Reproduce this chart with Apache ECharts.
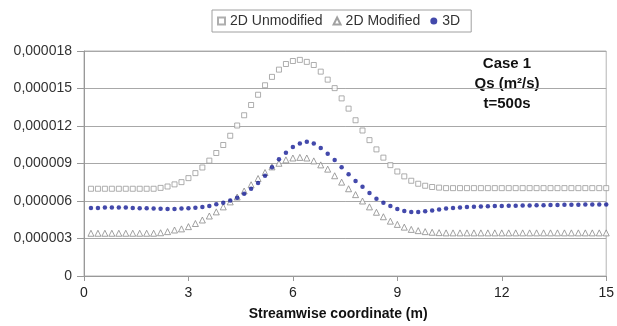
<!DOCTYPE html>
<html>
<head>
<meta charset="utf-8">
<script src="https://cdn.jsdelivr.net/npm/echarts@6/dist/echarts.min.js"></script>
<style>
  html, body { margin: 0; padding: 0; background: #fff; }
  #chart { width: 617px; height: 326px; }
</style>
</head>
<body>
<div id="chart"></div>
<script>
// streamwise coordinate (m)
var xs = [0.2, 0.4, 0.6, 0.8, 1.0, 1.2, 1.4, 1.6, 1.8, 2.0,
  2.2, 2.4, 2.6, 2.8, 3.0, 3.2, 3.4, 3.6, 3.8, 4.0,
  4.2, 4.4, 4.6, 4.8, 5.0, 5.2, 5.4, 5.6, 5.8, 6.0,
  6.2, 6.4, 6.6, 6.8, 7.0, 7.2, 7.4, 7.6, 7.8, 8.0,
  8.2, 8.4, 8.6, 8.8, 9.0, 9.2, 9.4, 9.6, 9.8, 10.0,
  10.2, 10.4, 10.6, 10.8, 11.0, 11.2, 11.4, 11.6, 11.8, 12.0,
  12.2, 12.4, 12.6, 12.8, 13.0, 13.2, 13.4, 13.6, 13.8, 14.0,
  14.2, 14.4, 14.6, 14.8, 15.0];

// Qs in units of 1e-6 m2/s
var unmodified2D = [6.98, 6.98, 6.98, 6.98, 6.98, 6.98, 6.98, 6.98, 6.98, 6.98,
  7.05, 7.16, 7.33, 7.51, 7.83, 8.23, 8.68, 9.23, 9.84, 10.48,
  11.22, 12.04, 12.86, 13.68, 14.5, 15.26, 15.93, 16.51, 16.96, 17.2,
  17.29, 17.13, 16.88, 16.35, 15.71, 15.03, 14.21, 13.39, 12.46, 11.64,
  10.87, 10.13, 9.47, 8.87, 8.36, 7.97, 7.62, 7.38, 7.22, 7.12,
  7.07, 7.03, 7.03, 7.03, 7.03, 7.03, 7.03, 7.03, 7.03, 7.03,
  7.03, 7.03, 7.03, 7.03, 7.03, 7.03, 7.03, 7.03, 7.03, 7.03,
  7.03, 7.03, 7.03, 7.03, 7.03];

var modified2D = [3.42, 3.42, 3.42, 3.42, 3.42, 3.42, 3.42, 3.42, 3.42, 3.42,
  3.46, 3.55, 3.68, 3.77, 3.95, 4.2, 4.48, 4.8, 5.13, 5.53,
  5.93, 6.32, 6.8, 7.3, 7.8, 8.28, 8.73, 9.02, 9.29, 9.44,
  9.49, 9.44, 9.21, 8.89, 8.55, 8.02, 7.51, 6.98, 6.51, 6.0,
  5.53, 5.1, 4.74, 4.39, 4.13, 3.91, 3.73, 3.63, 3.55, 3.5,
  3.47, 3.45, 3.45, 3.45, 3.45, 3.45, 3.45, 3.45, 3.45, 3.45,
  3.45, 3.45, 3.45, 3.45, 3.45, 3.45, 3.45, 3.45, 3.45, 3.45,
  3.45, 3.45, 3.45, 3.45, 3.45];

var model3D = [5.45, 5.45, 5.48, 5.48, 5.48, 5.48, 5.45, 5.42, 5.42, 5.4,
  5.38, 5.37, 5.37, 5.4, 5.42, 5.46, 5.52, 5.6, 5.74, 5.87,
  6.05, 6.27, 6.58, 6.98, 7.45, 8.03, 8.7, 9.34, 9.87, 10.32,
  10.61, 10.74, 10.61, 10.24, 9.79, 9.29, 8.7, 8.15, 7.6, 7.14,
  6.64, 6.19, 5.87, 5.61, 5.37, 5.2, 5.12, 5.13, 5.18, 5.24,
  5.32, 5.4, 5.45, 5.49, 5.52, 5.54, 5.56, 5.58, 5.6, 5.61,
  5.62, 5.63, 5.64, 5.65, 5.66, 5.67, 5.68, 5.69, 5.7, 5.7,
  5.71, 5.72, 5.72, 5.73, 5.73];

var seriesNames = ['2D Unmodified', '2D Modified', '3D'];
var noteLines = ['Case 1', 'Qs (m\u00b2/s)', 't=500s'];

function pairs(ys) {
  return xs.map(function (x, i) { return [x, ys[i]]; });
}

var chart = echarts.init(document.getElementById('chart'));

var option = {
  animation: false,
  textStyle: { fontFamily: 'Liberation Sans, Arial, sans-serif' },
  legend: {
    data: seriesNames,
    left: 212,
    top: 10,
    padding: [4, 11, 4, 5],
    itemWidth: 7,
    itemHeight: 7,
    itemGap: 10,
    borderColor: '#a0a0a0',
    borderWidth: 1,
    borderRadius: 0,
    textStyle: { fontSize: 14, color: '#333' }
  },
  grid: {
    left: 84,
    right: 5,
    top: 51,
    bottom: 48,
    show: true,
    borderColor: '#b5b5b5',
    borderWidth: 1
  },
  graphic: noteLines.map(function (t, i) {
    return {
      type: 'text',
      x: 507,
      y: 64 + i * 20,
      style: {
        text: t,
        fill: '#111',
        font: 'bold 15px "Liberation Sans", Arial, sans-serif',
        align: 'center',
        verticalAlign: 'middle'
      }
    };
  }),
  xAxis: {
    type: 'value',
    min: 0,
    max: 15,
    interval: 3,
    name: 'Streamwise coordinate (m)',
    nameLocation: 'middle',
    nameGap: 31,
    nameTextStyle: { fontSize: 14, fontWeight: 'bold', color: '#111', padding: [0, 14, 0, 0] },
    axisLine: { lineStyle: { color: '#999' } },
    axisTick: { length: 5, lineStyle: { color: '#999' } },
    axisLabel: { fontSize: 14, color: '#222', margin: 10 },
    splitLine: { show: false }
  },
  yAxis: {
    type: 'value',
    min: 0,
    max: 18,
    interval: 3,
    axisLine: { show: true, lineStyle: { color: '#999' } },
    axisTick: { show: true, length: 7, lineStyle: { color: '#999' } },
    axisLabel: {
      fontSize: 14,
      color: '#333',
      margin: 12,
      formatter: function (v) {
        return v === 0 ? '0' : '0,' + String(Math.round(v)).padStart(6, '0');
      }
    },
    splitLine: { lineStyle: { color: '#a8a8a8', width: 1 } }
  },
  series: [{
    name: seriesNames[0],
    type: 'scatter',
    symbol: 'rect',
    symbolSize: 5,
    data: pairs(unmodified2D),
    itemStyle: { color: '#fff', borderColor: '#9a9a9a', borderWidth: 1 }
  }, {
    name: seriesNames[1],
    type: 'scatter',
    symbol: 'triangle',
    symbolSize: 6,
    data: pairs(modified2D),
    itemStyle: { color: '#fff', borderColor: '#8a8a8a', borderWidth: 1 }
  }, {
    name: seriesNames[2],
    type: 'scatter',
    symbol: 'circle',
    symbolSize: 4.5,
    data: pairs(model3D),
    itemStyle: { color: '#141c96' }
  }]
};

chart.setOption(option);
</script>
</body>
</html>
